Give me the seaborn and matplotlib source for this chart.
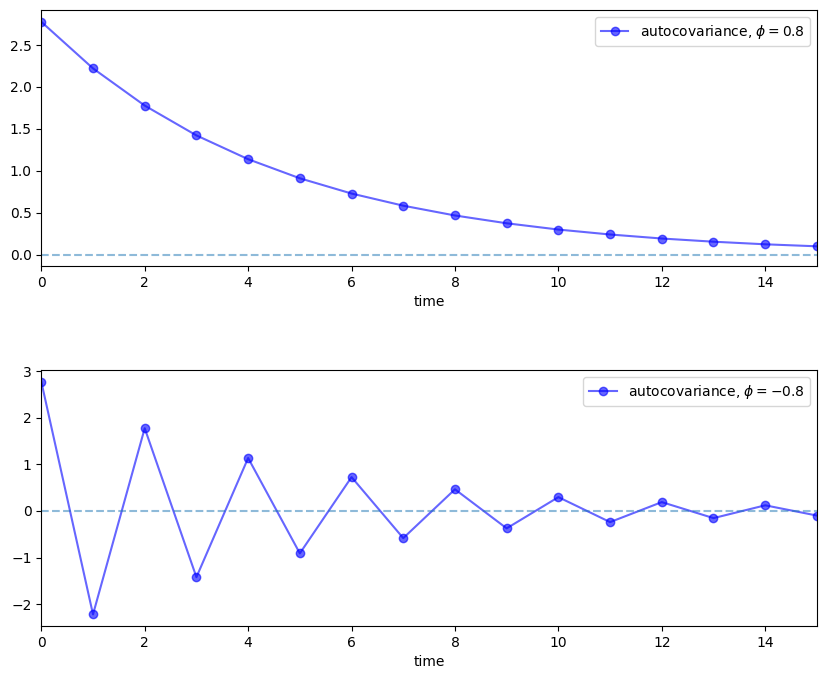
import matplotlib
matplotlib.use("Agg")
import matplotlib.pyplot as plt
import seaborn as sns
import pandas as pd

# === Data ===
time = list(range(16))
acov_pos = [2.778, 2.222, 1.778, 1.422, 1.138, 0.910, 0.728, 0.583,
            0.466, 0.373, 0.298, 0.239, 0.191, 0.153, 0.122, 0.098]
acov_neg = [2.778, -2.222, 1.778, -1.422, 1.138, -0.910, 0.728, -0.583,
            0.466, -0.373, 0.298, -0.239, 0.191, -0.153, 0.122, -0.098]
labels = [r"autocovariance, $\phi = 0.8$", r"autocovariance, $\phi = -0.8$"]

df = pd.DataFrame({"time": time, "pos": acov_pos, "neg": acov_neg})

fig, axes = plt.subplots(2, 1, figsize=(8.26, 6.79), dpi=100)
fig.subplots_adjust(left=0.050, right=0.989, top=0.985, bottom=0.078, hspace=0.406)

for ax, col, label in zip(axes, ["pos", "neg"], labels):
    sns.lineplot(data=df, x="time", y=col, ax=ax, color="blue", alpha=0.6,
                 marker="o", markersize=6, markeredgecolor="blue",
                 markeredgewidth=1, lw=1.5, label=label)
    ax.axhline(0, linestyle="--", alpha=0.5)
    ax.set_xlim(0, 15)
    # 5% margin around the data plus the zero line
    lo = min(0, df[col].min())
    hi = max(0, df[col].max())
    pad = 0.05 * (hi - lo)
    ax.set_ylim(lo - pad, hi + pad)
    ax.set_xlabel("time")
    ax.set_ylabel("")
    ax.legend(loc="upper right")

plt.savefig("out.png", dpi=100)
plt.close()
